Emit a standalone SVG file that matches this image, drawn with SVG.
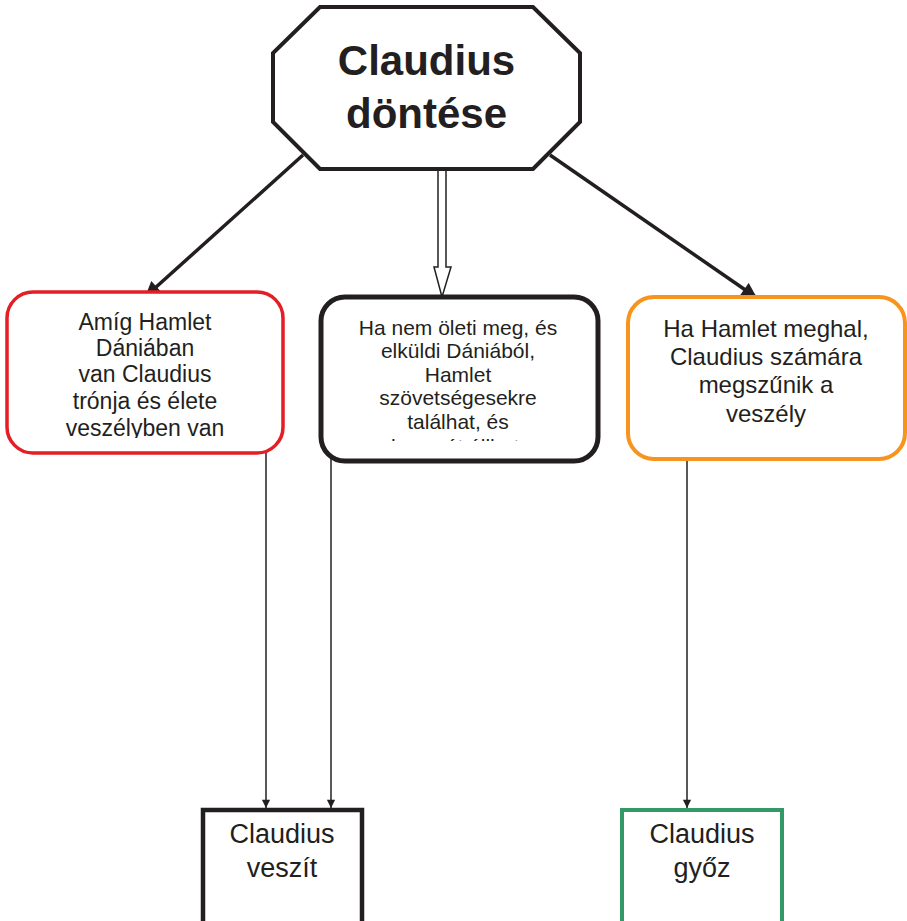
<svg xmlns="http://www.w3.org/2000/svg" width="907" height="921" viewBox="0 0 907 921">
<style>
text{font-family:"Liberation Sans",Arial,sans-serif;fill:#231f20;text-anchor:middle}
.t21{font-size:21px}.t23{font-size:23px}.t24{font-size:24px}.t27{font-size:27px}
.title{font-size:42px;font-weight:bold}
.thick{stroke:#231f20;stroke-width:3.5;fill:none}
.thin{stroke:#231f20;stroke-width:1.5;fill:none}
</style>
<defs>
<marker id="big" viewBox="0 0 10 10" refX="10" refY="5" markerWidth="5" markerHeight="4.4" orient="auto" markerUnits="strokeWidth"><path d="M0,0 L10,5 L0,10 z" fill="#231f20"/></marker>
<marker id="small" viewBox="0 0 10 10" refX="10" refY="5" markerWidth="7" markerHeight="5.5" orient="auto" markerUnits="strokeWidth"><path d="M0,0 L10,5 L0,10 z" fill="#231f20"/></marker>
<clipPath id="clipRed"><rect x="0" y="290" width="300" height="148"/></clipPath>
<clipPath id="clipMid"><rect x="310" y="290" width="300" height="151"/></clipPath>
</defs>
<g id="connectors">
<line class="thick" x1="303" y1="155" x2="145" y2="297" marker-end="url(#big)"/>
<line class="thick" x1="550" y1="155" x2="757" y2="298" marker-end="url(#big)"/>
<polygon points="438,170 446,170 446,267 451,267 442,297 434,267 438,267" fill="#fff" stroke="#231f20" stroke-width="1.5"/>
<line class="thin" x1="266" y1="453" x2="266" y2="808" marker-end="url(#small)"/>
<line class="thin" x1="331" y1="457" x2="331" y2="808" marker-end="url(#small)"/>
<line class="thin" x1="687" y1="453" x2="687" y2="808" marker-end="url(#small)"/>
</g>
<g id="decision">
<polygon points="320,7 533,7 580,53 580,122 533,169 320,169 273,122 273,53" fill="#fff" stroke="#231f20" stroke-width="4"/>
<text class="title" x="426.5" y="75">Claudius</text>
<text class="title" x="426.5" y="128">döntése</text>
</g>
<g id="node-red">
<rect x="7" y="292" width="276" height="161" rx="26" fill="#fff" stroke="#e31e24" stroke-width="3.5"/>
<g clip-path="url(#clipRed)" class="t23">
<text x="145" y="330">Amíg Hamlet</text>
<text x="145" y="356">Dániában</text>
<text x="145" y="382">van Claudius</text>
<text x="145" y="409">trónja és élete</text>
<text x="145" y="436">veszélyben van</text>
</g>
</g>
<g id="node-black">
<rect x="321" y="297" width="277" height="164" rx="24" fill="#fff" stroke="#231f20" stroke-width="5"/>
<g clip-path="url(#clipMid)" class="t21">
<text x="458" y="335">Ha nem öleti meg, és</text>
<text x="458" y="358">elküldi Dániából,</text>
<text x="458" y="382">Hamlet</text>
<text x="458" y="405">szövetségesekre</text>
<text x="458" y="429">találhat, és</text>
<text x="458" y="454">bosszút állhat.</text>
</g>
</g>
<g id="node-orange">
<rect x="628" y="297" width="277" height="162" rx="26" fill="#fff" stroke="#f7941d" stroke-width="4"/>
<g class="t24">
<text x="766" y="337">Ha Hamlet meghal,</text>
<text x="766" y="365">Claudius számára</text>
<text x="766" y="393">megszűnik a</text>
<text x="766" y="422">veszély</text>
</g>
</g>
<g id="node-lose">
<rect x="203" y="810" width="159" height="130" fill="#fff" stroke="#231f20" stroke-width="4.5"/>
<text class="t27" x="282" y="843">Claudius</text>
<text class="t27" x="282" y="877">veszít</text>
</g>
<g id="node-win">
<rect x="622" y="810" width="160" height="130" fill="#fff" stroke="#339966" stroke-width="4"/>
<text class="t27" x="702" y="843">Claudius</text>
<text class="t27" x="702" y="877">győz</text>
</g>
</svg>
